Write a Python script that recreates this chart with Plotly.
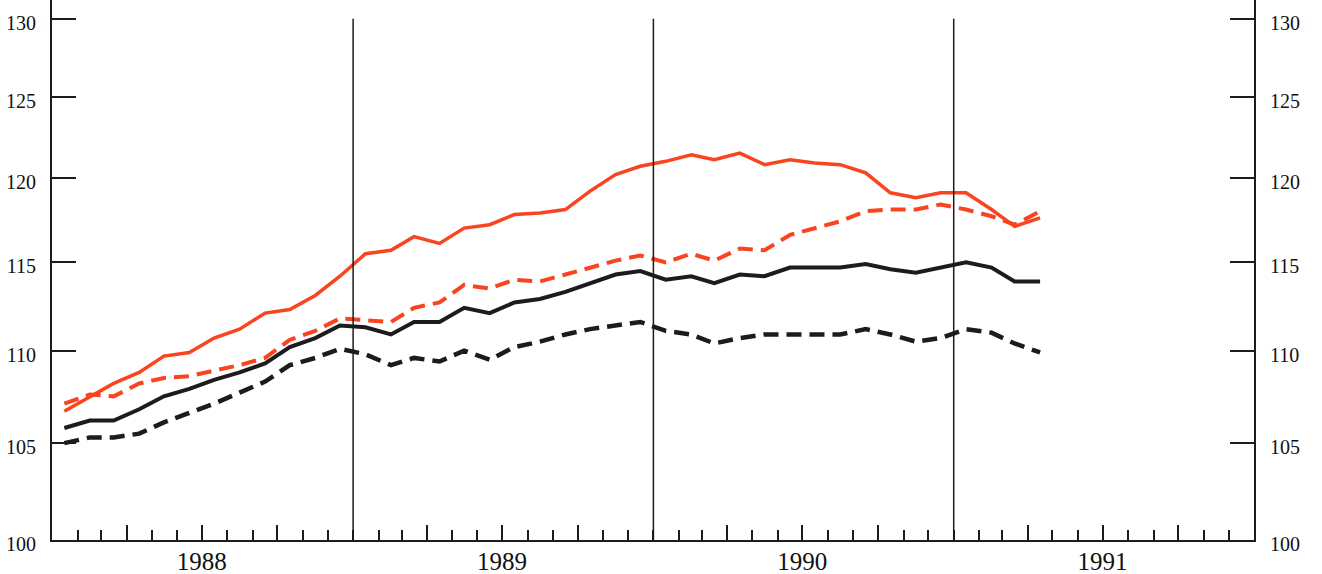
import numpy as np
import pandas as pd
import plotly.graph_objects as go

# Monthly observations, Jan 1988 .. Apr 1991 (plotted mid-month)
months = pd.date_range("1988-01-01", periods=40, freq="MS") + pd.Timedelta(days=15)

red_solid = [106.7, 107.5, 108.2, 108.8, 109.7, 109.9, 110.7, 111.2, 112.1, 112.3,
             113.1, 114.2, 115.5, 115.7, 116.5, 116.1, 117.0, 117.2, 117.8, 117.9,
             118.1, 119.2, 120.2, 120.7, 121.0, 121.4, 121.1, 121.5, 120.8, 121.1,
             120.9, 120.8, 120.3, 119.1, 118.8, 119.1, 119.1, 118.1, 117.1, 117.6]

red_dashed = [107.1, 107.6, 107.5, 108.2, 108.5, 108.6, 108.9, 109.2, 109.6, 110.6,
              111.1, 111.8, 111.7, 111.6, 112.4, 112.7, 113.7, 113.5, 114.0, 113.9,
              114.3, 114.7, 115.1, 115.4, 115.0, 115.5, 115.1, 115.8, 115.7, 116.6,
              117.0, 117.4, 118.0, 118.1, 118.1, 118.4, 118.1, 117.7, 117.2, 118.0]

black_solid = [105.8, 106.2, 106.2, 106.8, 107.5, 107.9, 108.4, 108.8, 109.3, 110.2,
               110.7, 111.4, 111.3, 110.9, 111.6, 111.6, 112.4, 112.1, 112.7, 112.9,
               113.3, 113.8, 114.3, 114.5, 114.0, 114.2, 113.8, 114.3, 114.2, 114.7,
               114.7, 114.7, 114.9, 114.6, 114.4, 114.7, 115.0, 114.7, 113.9, 113.9]

black_dashed = [105.0, 105.3, 105.3, 105.5, 106.1, 106.6, 107.1, 107.7, 108.3, 109.2,
                109.6, 110.1, 109.8, 109.2, 109.6, 109.4, 110.0, 109.5, 110.2, 110.5,
                110.9, 111.2, 111.4, 111.6, 111.1, 110.9, 110.4, 110.7, 110.9, 110.9,
                110.9, 110.9, 111.2, 110.9, 110.5, 110.7, 111.2, 111.0, 110.4, 109.9]

years = [1988, 1989, 1990, 1991]
y_ticks = [100, 105, 110, 115, 120, 125, 130]

RED = "#fa4420"
BLACK = "#1c1c1c"
FONT = "Liberation Serif"

fig = go.Figure()
fig.add_trace(go.Scatter(x=months, y=black_dashed, mode="lines",
                         line=dict(color=BLACK, width=4.5, dash="15px,8px")))
fig.add_trace(go.Scatter(x=months, y=black_solid, mode="lines",
                         line=dict(color=BLACK, width=4)))
fig.add_trace(go.Scatter(x=months, y=red_dashed, mode="lines",
                         line=dict(color=RED, width=4, dash="15px,8px")))
fig.add_trace(go.Scatter(x=months, y=red_solid, mode="lines",
                         line=dict(color=RED, width=3.5)))
# invisible trace to anchor the right-hand axis
fig.add_trace(go.Scatter(x=months, y=black_solid, mode="lines", yaxis="y2",
                         line=dict(color="rgba(0,0,0,0)", width=0), hoverinfo="skip"))

# quarter ticks (Apr, Jul, Oct) with year label under July
qvals, qtext = [], []
for yr in years:
    for m in (4, 7, 10):
        qvals.append(f"{yr}-{m:02d}-01")
        qtext.append(str(yr) if m == 7 else "")

yrange = [2, 2 + 540 / 4574]
top_frac = (np.log10(130) - yrange[0]) / (yrange[1] - yrange[0])
for yr in years[1:]:
    fig.add_shape(type="line", xref="x", yref="paper",
                  x0=f"{yr}-01-01", x1=f"{yr}-01-01", y0=0, y1=top_frac,
                  line=dict(color=BLACK, width=1.5), layer="above")

fig.update_layout(
    width=1322, height=574,
    margin=dict(l=52, r=68, t=0, b=34),
    paper_bgcolor="white", plot_bgcolor="white",
    showlegend=False,
    font=dict(family=FONT, color="#111111"),
    xaxis=dict(
        type="date", range=["1988-01-01", "1992-01-01"], automargin=False,
        tickmode="array", tickvals=qvals, ticktext=qtext,
        ticks="inside", ticklen=15, tickwidth=1.5, tickcolor=BLACK,
        minor=dict(dtick="M1", tick0="1988-01-01", ticks="inside",
                   ticklen=10, tickwidth=1.5, tickcolor=BLACK, showgrid=False),
        showgrid=False, zeroline=False,
        showline=True, linecolor=BLACK, linewidth=2,
        tickfont=dict(family=FONT, size=25, color="#111111"),
        ticklabelstandoff=-2,
    ),
    yaxis=dict(
        type="log", range=yrange, automargin=False,
        tickmode="array", tickvals=y_ticks, ticktext=[str(v) for v in y_ticks],
        ticks="inside", ticklen=24, tickwidth=1.5, tickcolor=BLACK,
        showgrid=False, zeroline=False,
        showline=True, linecolor=BLACK, linewidth=2,
        tickfont=dict(family=FONT, size=20, color="#111111"),
        ticklabelstandoff=10, ticklabelshift=4,
    ),
    yaxis2=dict(
        type="log", range=yrange, overlaying="y", side="right", anchor="x",
        automargin=False,
        tickmode="array", tickvals=y_ticks, ticktext=[str(v) for v in y_ticks],
        ticks="inside", ticklen=24, tickwidth=1.5, tickcolor=BLACK,
        showgrid=False, zeroline=False,
        showline=True, linecolor=BLACK, linewidth=2,
        tickfont=dict(family=FONT, size=20, color="#111111"),
        ticklabelstandoff=10, ticklabelshift=4,
    ),
)

fig.write_html("out.html", config={"displayModeBar": False},
               post_script="document.body.style.margin='0';document.body.style.overflow='hidden';")
